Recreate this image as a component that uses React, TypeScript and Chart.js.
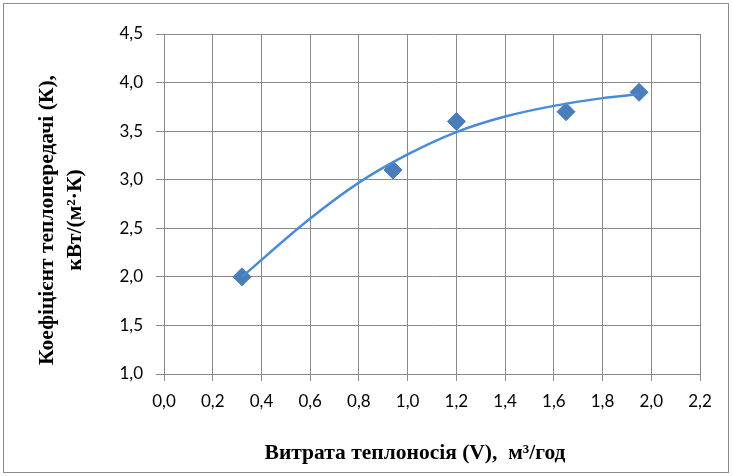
import React, { useEffect, useRef } from 'react';
import { Chart, registerables } from 'chart.js';

Chart.register(...registerables);

// Measured data (flow rate V, m³/h vs heat-transfer coefficient K)
const flowRates = [0.32, 0.94, 1.2, 1.65, 1.95];
const heatTransfer = [2.0, 3.1, 3.6, 3.7, 3.9];

// Trend curve
const trendFlow = [0.32, 0.6, 0.8, 1.0, 1.2, 1.4, 1.6, 1.8, 1.95];
const trendK = [2.0, 2.6, 2.97, 3.26, 3.49, 3.65, 3.76, 3.84, 3.88];

const xTitle = 'Витрата теплоносія (V),  м³/год';
const yTitleLines = ['Коефіцієнт теплопередачі (К),', 'кВт/(м²·К)'];

const fmt = (v: number) => Number(v).toFixed(1).replace('.', ',');

const GRID = '#8a8a8a';
const TITLE_FONT = 'bold 21.5px "Liberation Serif", "Times New Roman", serif';

const frameAndTitlePlugin = {
  id: 'frameAndTitle',
  afterDraw(chart: any) {
    const ctx = chart.ctx;
    ctx.save();
    ctx.strokeStyle = '#8c8c8c';
    ctx.lineWidth = 1;
    ctx.strokeRect(3.5, 3.5, 725, 469);
    ctx.fillStyle = '#000';
    ctx.font = TITLE_FONT;
    ctx.textAlign = 'center';
    ctx.textBaseline = 'alphabetic';
    // x-axis title
    ctx.fillText(xTitle, 415, 459);
    // y-axis title (two rotated lines)
    const cy = 220;
    const xs = [53, 81];
    yTitleLines.forEach((line, i) => {
      ctx.save();
      ctx.translate(xs[i], cy);
      ctx.rotate(-Math.PI / 2);
      ctx.fillText(line, 0, 0);
      ctx.restore();
    });
    ctx.restore();
  },
};

export default function App() {
  const ref = useRef<HTMLCanvasElement | null>(null);
  useEffect(() => {
    document.body.style.margin = '0';
    const canvas = ref.current;
    if (!canvas) return;
    const chart = new Chart(canvas, {
      type: 'scatter',
      data: {
        datasets: [
          {
            label: 'trend',
            data: trendFlow.map((x, i) => ({ x, y: trendK[i] })),
            showLine: true,
            borderColor: '#4a8bd8',
            borderWidth: 2.5,
            pointRadius: 0,
            tension: 0.4,
            cubicInterpolationMode: 'monotone',
            fill: false,
            order: 0,
          },
          {
            label: 'K',
            data: flowRates.map((x, i) => ({ x, y: heatTransfer[i] })),
            pointStyle: 'rectRot',
            pointRadius: 9,
            backgroundColor: '#4a7ebb',
            borderColor: '#4a7ebb',
            borderWidth: 1,
            showLine: false,
            order: 1,
          },
        ],
      },
      options: {
        responsive: false,
        animation: false,
        events: [],
        layout: { padding: { left: 0, right: 32, top: 34, bottom: 0 } },
        plugins: {
          legend: { display: false },
          tooltip: { enabled: false },
          title: { display: false },
        },
        scales: {
          x: {
            type: 'linear',
            min: 0,
            max: 2.2,
            afterFit: (s: any) => { s.height = 102; },
            ticks: {
              stepSize: 0.2,
              callback: (v: any) => fmt(v),
              color: '#000',
              font: { family: 'Lato', size: 17 },
              padding: 10,
              maxRotation: 0,
            },
            grid: { color: GRID, lineWidth: 1, tickLength: 7, tickColor: GRID },
            border: { color: GRID, width: 1 },
          },
          y: {
            type: 'linear',
            min: 1,
            max: 4.5,
            afterFit: (s: any) => { s.width = 164; },
            ticks: {
              stepSize: 0.5,
              callback: (v: any) => fmt(v),
              color: '#000',
              font: { family: 'Lato', size: 17 },
              padding: 13,
            },
            grid: { color: GRID, lineWidth: 1, tickLength: 8, tickColor: GRID },
            border: { color: GRID, width: 1 },
          },
        },
      },
      plugins: [frameAndTitlePlugin],
    } as any);
    return () => chart.destroy();
  }, []);
  return (
    <div style={{ width: 732, height: 476, background: '#fff' }}>
      <canvas ref={ref} width={732} height={476} style={{ display: 'block' }} />
    </div>
  );
}
